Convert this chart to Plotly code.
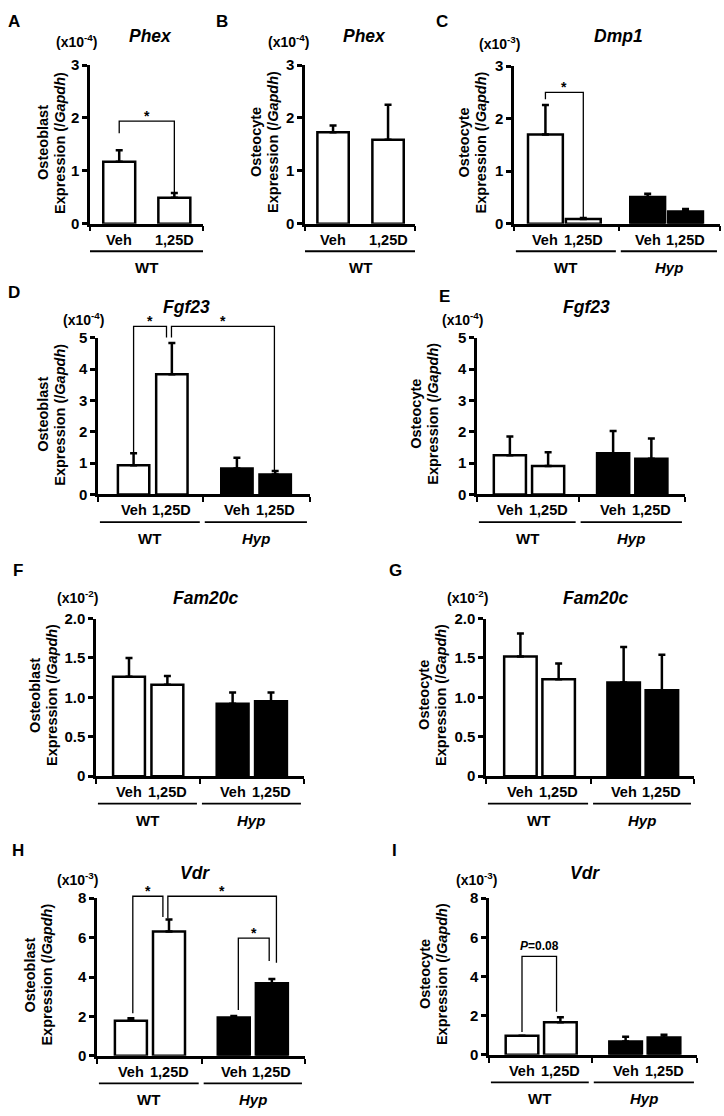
import plotly.graph_objects as go

W, H = 724, 1116
FONT = "Liberation Sans, Arial, sans-serif"

# ---------------- data ----------------
treatments = ["Veh", "1,25D"]
genotypes = ["WT", "<i>Hyp</i>"]
x_two = [0, 1]
x_four = [0, 1, 2.7, 3.7]

A_mean = [1.17, 0.49]; A_err = [0.22, 0.09]
B_mean = [1.73, 1.59]; B_err = [0.13, 0.66]
C_mean = [1.70, 0.09, 0.51, 0.23]; C_err = [0.56, 0.02, 0.06, 0.05]
D_mean = [0.93, 3.84, 0.83, 0.64]; D_err = [0.39, 1.00, 0.34, 0.11]
E_mean = [1.25, 0.91, 1.32, 1.14]; E_err = [0.60, 0.44, 0.71, 0.65]
F_mean = [1.26, 1.16, 0.92, 0.95]; F_err = [0.24, 0.11, 0.14, 0.11]
G_mean = [1.52, 1.23, 1.19, 1.09]; G_err = [0.29, 0.20, 0.45, 0.45]
H_mean = [1.78, 6.31, 1.94, 3.68]; H_err = [0.13, 0.61, 0.08, 0.22]
I_mean = [0.97, 1.67, 0.68, 0.88]; I_err = [0.00, 0.25, 0.24, 0.14]

# brackets: (x_left, x_right, top, left_leg_bottom, right_leg_bottom, label)
A_brk = [(0, 1, 1.94, 1.71, 0.55, "*")]
C_brk = [(0, 1, 2.50, 2.37, 0.12, "*")]
D_brk = [(0, 0.86, 5.37, 1.36, 5.01, "*"), (0.99, 3.68, 5.37, 5.01, 0.73, "*")]
H_brk = [(0.05, 0.84, 8.1, 2.16, 7.05, "*"), (0.97, 3.82, 8.1, 6.97, 4.73, "*"),
         (2.82, 3.63, 5.98, 2.32, 4.81, "*")]
I_brk = [(0, 0.9, 5.03, 1.17, 2.2, "<i>P</i>=0.08")]

ticks_3 = [0, 1, 2, 3]
ticks_5 = [0, 1, 2, 3, 4, 5]
ticks_2 = [0, 0.5, 1.0, 1.5, 2.0]
ticks_2_text = ["0", "0.5", "1.0", "1.5", "2.0"]
ticks_8 = [0, 2, 4, 6, 8]

panels = [
    dict(letter="A", gene="Phex", cell="Osteoblast", scale="(x10<sup>-4</sup>)", mean=A_mean, err=A_err,
         x=x_two, brk=A_brk, yt=ticks_3, ytt=None),
    dict(letter="B", gene="Phex", cell="Osteocyte", scale="(x10<sup>-4</sup>)", mean=B_mean, err=B_err,
         x=x_two, brk=[], yt=ticks_3, ytt=None),
    dict(letter="C", gene="Dmp1", cell="Osteocyte", scale="(x10<sup>-3</sup>)", mean=C_mean, err=C_err,
         x=x_four, brk=C_brk, yt=ticks_3, ytt=None),
    dict(letter="D", gene="Fgf23", cell="Osteoblast", scale="(x10<sup>-4</sup>)", mean=D_mean, err=D_err,
         x=x_four, brk=D_brk, yt=ticks_5, ytt=None),
    dict(letter="E", gene="Fgf23", cell="Osteocyte", scale="(x10<sup>-4</sup>)", mean=E_mean, err=E_err,
         x=x_four, brk=[], yt=ticks_5, ytt=None),
    dict(letter="F", gene="Fam20c", cell="Osteoblast", scale="(x10<sup>-2</sup>)", mean=F_mean, err=F_err,
         x=x_four, brk=[], yt=ticks_2, ytt=ticks_2_text),
    dict(letter="G", gene="Fam20c", cell="Osteocyte", scale="(x10<sup>-2</sup>)", mean=G_mean, err=G_err,
         x=x_four, brk=[], yt=ticks_2, ytt=ticks_2_text),
    dict(letter="H", gene="Vdr", cell="Osteoblast", scale="(x10<sup>-3</sup>)", mean=H_mean, err=H_err,
         x=x_four, brk=H_brk, yt=ticks_8, ytt=None),
    dict(letter="I", gene="Vdr", cell="Osteocyte", scale="(x10<sup>-3</sup>)", mean=I_mean, err=I_err,
         x=x_four, brk=I_brk, yt=ticks_8, ytt=None),
]

# ---------------- layout geometry (pixels) ----------------
geo = [
    dict(box=(90, 203, 57, 218), xr=(-0.53, 1.52), bw=0.58, sep=None, yto=38, let=(14, 13), tit=(150, 27), sc=(76, 33)),
    dict(box=(305, 415, 57, 218), xr=(-0.51, 1.49), bw=0.57, sep=None, yto=40, let=(222, 13), tit=(364, 27), sc=(288, 33)),
    dict(box=(514, 720, 58, 218), xr=(-0.83, 4.61), bw=0.92, sep=1.94, yto=42, let=(442, 13), tit=(618, 27), sc=(499, 35)),
    dict(box=(98, 310, 334, 493), xr=(-0.93, 4.61), bw=0.82, sep=1.81, yto=46, let=(14, 288), tit=(187, 303), sc=(83, 315)),
    dict(box=(477, 685, 334, 493), xr=(-0.86, 4.58), bw=0.84, sep=1.80, yto=52, let=(445, 292), tit=(586, 303), sc=(462, 315)),
    dict(box=(96, 304, 619, 779), xr=(-0.86, 4.56), bw=0.83, sep=1.85, yto=52, let=(18, 570), tit=(205, 598), sc=(77, 597)),
    dict(box=(486, 694, 619, 779), xr=(-0.90, 4.54), bw=0.85, sep=1.85, yto=53, let=(395, 570), tit=(595, 598), sc=(467, 597)),
    dict(box=(97, 305, 903, 1063), xr=(-0.89, 4.57), bw=0.84, sep=1.86, yto=58, let=(18, 855), tit=(195, 877), sc=(77, 883)),
    dict(box=(489, 697, 903, 1062), xr=(-0.86, 4.56), bw=0.85, sep=1.82, yto=56, let=(394, 855), tit=(585, 877), sc=(476, 883)),
]

TOP_EXT, BOT_EXT = 45, 50
LINE_GAP = 17


def px(xp):
    return xp / W


def py(yp):
    return 1 - yp / H


fig = go.Figure()
layout = dict(width=W, height=H, margin=dict(l=0, r=0, t=0, b=0),
              paper_bgcolor="white", plot_bgcolor="rgba(0,0,0,0)",
              showlegend=False, font=dict(family=FONT, color="black", size=14, weight="bold"))
annotations = []

for i, (p, g) in enumerate(zip(panels, geo)):
    k = i + 1
    ka = i + 10
    l, r, t, b = g["box"]
    ymax = p["yt"][-1]
    u = ymax / (b - t)  # data units per pixel
    n = len(p["mean"])
    fills = ["white", "white", "black", "black"][:n]

    xticks = [g["xr"][0] + 0.001]
    if g["sep"] is not None:
        xticks.append(g["sep"])
    xticks.append(g["xr"][1] - 0.001)
    layout[f"xaxis{k}"] = dict(domain=[px(l), px(r)], range=list(g["xr"]), anchor=f"y{k}",
                               showline=True, linecolor="black", linewidth=2.5,
                               tickmode="array", tickvals=xticks, ticks="outside", ticklen=5,
                               tickwidth=2, tickcolor="black", showticklabels=False,
                               showgrid=False, zeroline=False, fixedrange=True)
    layout[f"yaxis{k}"] = dict(domain=[py(b), py(t)], range=[0, ymax], anchor=f"x{k}",
                               showline=True, linecolor="black", linewidth=2.5,
                               tickmode="array", tickvals=p["yt"],
                               ticktext=p["ytt"] if p["ytt"] else [str(v) for v in p["yt"]],
                               ticks="outside", ticklen=5, tickwidth=2.5, tickcolor="black",
                               tickfont=dict(family=FONT, size=15, weight="bold", color="black"),
                               showgrid=False, zeroline=False, fixedrange=True)
    layout[f"xaxis{ka}"] = dict(domain=[px(l), px(r)], range=list(g["xr"]), anchor=f"y{ka}",
                                visible=False, fixedrange=True)
    layout[f"yaxis{ka}"] = dict(domain=[py(b + BOT_EXT), py(t - TOP_EXT)],
                                range=[-BOT_EXT * u, ymax + TOP_EXT * u], anchor=f"x{ka}",
                                visible=False, fixedrange=True)

    fig.add_trace(go.Bar(
        x=p["x"], y=p["mean"], width=g["bw"], xaxis=f"x{k}", yaxis=f"y{k}",
        marker=dict(color=fills, line=dict(color="black", width=2.5)),
        error_y=dict(type="data", array=p["err"], arrayminus=[0] * n, symmetric=False,
                     color="black", thickness=2.5, width=3.5),
        hoverinfo="skip"))

    for (x0, x1, top, lb, rb, lab) in p["brk"]:
        fig.add_trace(go.Scatter(x=[x0, x0, x1, x1], y=[lb, top, top, rb], mode="lines",
                                 line=dict(color="black", width=1.3),
                                 xaxis=f"x{ka}", yaxis=f"y{ka}", hoverinfo="skip"))
        is_star = lab == "*"
        annotations.append(dict(x=(x0 + x1) / 2, y=top, xref=f"x{ka}", yref=f"y{ka}",
                                text=lab, showarrow=False, yanchor="bottom",
                                yshift=-5 if is_star else 1,
                                font=dict(family=FONT, size=14 if is_star else 12, weight="bold")))

    gl_y = -28 * u
    if n == 2:
        segs = [(g["xr"][0], g["xr"][1])]
    else:
        segs = [(g["xr"][0] + 0.05, g["sep"] - 0.08), (g["sep"] + 0.05, g["xr"][1] - 0.08)]
    xs, ys = [], []
    for (s0, s1) in segs:
        xs += [s0, s1, None]
        ys += [gl_y, gl_y, None]
    fig.add_trace(go.Scatter(x=xs, y=ys, mode="lines", line=dict(color="black", width=1.8),
                             xaxis=f"x{ka}", yaxis=f"y{ka}", hoverinfo="skip"))
    for gi, (s0, s1) in enumerate(segs):
        annotations.append(dict(x=(s0 + s1) / 2, y=0, xref=f"x{ka}", yref=f"y{ka}",
                                text=genotypes[gi], showarrow=False, yanchor="middle", yshift=-44,
                                font=dict(family=FONT, size=15, weight="bold")))
    for bi, xv in enumerate(p["x"]):
        annotations.append(dict(x=xv, y=0, xref=f"x{ka}", yref=f"y{ka}",
                                text=treatments[bi % 2], showarrow=False, yanchor="middle", yshift=-16,
                                font=dict(family=FONT, size=14.5, weight="bold")))

    # y-axis title: two rotated lines
    yc = py((t + b) / 2 - 2)
    xc = l - g["yto"]
    for li, line_txt in enumerate([p["cell"], "Expression (/<i>Gapdh</i>)"]):
        annotations.append(dict(x=px(xc + (li - 0.5) * LINE_GAP), y=yc, xref="paper", yref="paper",
                                text=line_txt, textangle=-90,
                                showarrow=False, xanchor="center", yanchor="middle",
                                font=dict(family=FONT, size=14.5, weight="bold")))
    annotations.append(dict(x=px(g["let"][0]), y=py(g["let"][1]), xref="paper", yref="paper",
                            text=p["letter"], showarrow=False, xanchor="center", yanchor="middle",
                            font=dict(family=FONT, size=17, weight="bold")))
    annotations.append(dict(x=px(g["tit"][0]), y=py(g["tit"][1]), xref="paper", yref="paper",
                            text=p["gene"], showarrow=False, xanchor="center", yanchor="middle",
                            font=dict(family=FONT, size=17.5, weight="bold", style="italic")))
    annotations.append(dict(x=px(g["sc"][0]), y=py(g["sc"][1]), xref="paper", yref="paper",
                            text=p["scale"], showarrow=False, xanchor="center", yanchor="middle",
                            font=dict(family=FONT, size=14, weight="bold")))

layout["annotations"] = annotations
fig.update_layout(**layout)
fig.write_html("out.html", config={"displayModeBar": False},
               post_script="document.body.style.margin='0px';")
